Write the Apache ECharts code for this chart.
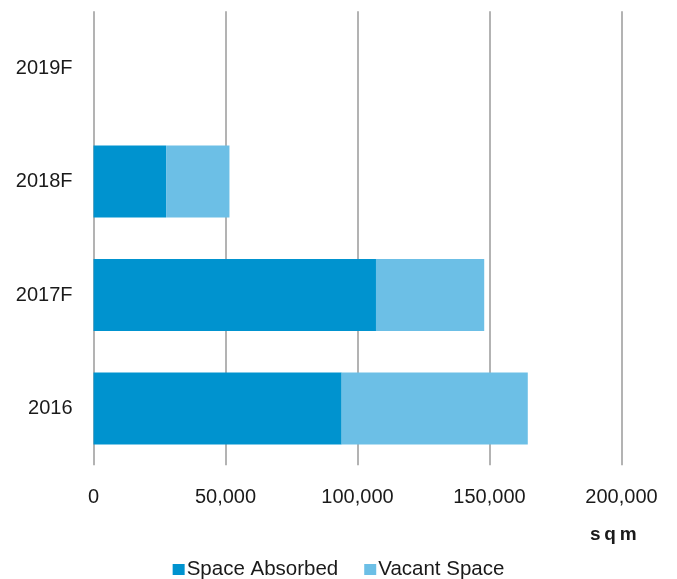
<!DOCTYPE html>
<html>
<head>
<meta charset="utf-8">
<script src="https://cdn.jsdelivr.net/npm/echarts@6/dist/echarts.min.js"></script>
<style>
  html, body { margin: 0; padding: 0; background: #fff; }
  #chart { width: 677px; height: 579px; }
</style>
</head>
<body>
<div id="chart"></div>
<script>
// Years shown on the vertical axis (bottom to top)
const years = ['2016', '2017F', '2018F', '2019F'];
// Floor space in square metres
const spaceAbsorbed = [94000, 107000, 27500, 0];
const vacantSpace = [70500, 41000, 24000, 0];
// Horizontal axis ticks
const xTicks = [0, 50000, 100000, 150000, 200000];

const FONT = "'Liberation Sans', Arial, sans-serif";
const chart = echarts.init(document.getElementById('chart'), null, { renderer: 'canvas' });

chart.setOption({
  animation: false,
  backgroundColor: '#ffffff',
  grid: { left: 93.5, right: 55.5, top: 11.25, bottom: 113.75 },
  xAxis: {
    type: 'value',
    min: xTicks[0],
    max: xTicks[xTicks.length - 1],
    interval: xTicks[1] - xTicks[0],
    axisLine: { show: false },
    axisTick: { show: false },
    splitLine: { show: true, lineStyle: { color: '#9a9a9a', width: 1.5 } },
    axisLabel: {
      margin: 22,
      fontFamily: FONT,
      fontSize: 20,
      color: '#1a1a1a',
      formatter: v => v.toLocaleString('en-US')
    }
  },
  yAxis: {
    type: 'category',
    data: years,
    axisLine: { show: false },
    axisTick: { show: false },
    splitLine: { show: false },
    axisLabel: { margin: 21, fontFamily: FONT, fontSize: 20, color: '#1a1a1a' }
  },
  legend: {
    top: 554,
    left: 'center',
    icon: 'rect',
    itemWidth: 12,
    itemHeight: 11,
    itemGap: 26,
    textStyle: { fontFamily: FONT, fontSize: 20.5, color: '#1a1a1a', padding: [0, 0, 0, -3] },
    data: ['Space Absorbed', 'Vacant Space']
  },
  title: {
    text: 's\u2009q\u2009m',
    left: 585,
    top: 520,
    textStyle: { fontFamily: FONT, fontSize: 19, fontWeight: 'bold', color: '#1a1a1a' }
  },
  series: [
    {
      name: 'Space Absorbed',
      type: 'bar',
      stack: 'total',
      barWidth: 72,
      itemStyle: { color: '#0093CF' },
      data: spaceAbsorbed
    },
    {
      name: 'Vacant Space',
      type: 'bar',
      stack: 'total',
      barWidth: 72,
      itemStyle: { color: '#6CBFE6' },
      data: vacantSpace
    }
  ]
});
</script>
</body>
</html>
